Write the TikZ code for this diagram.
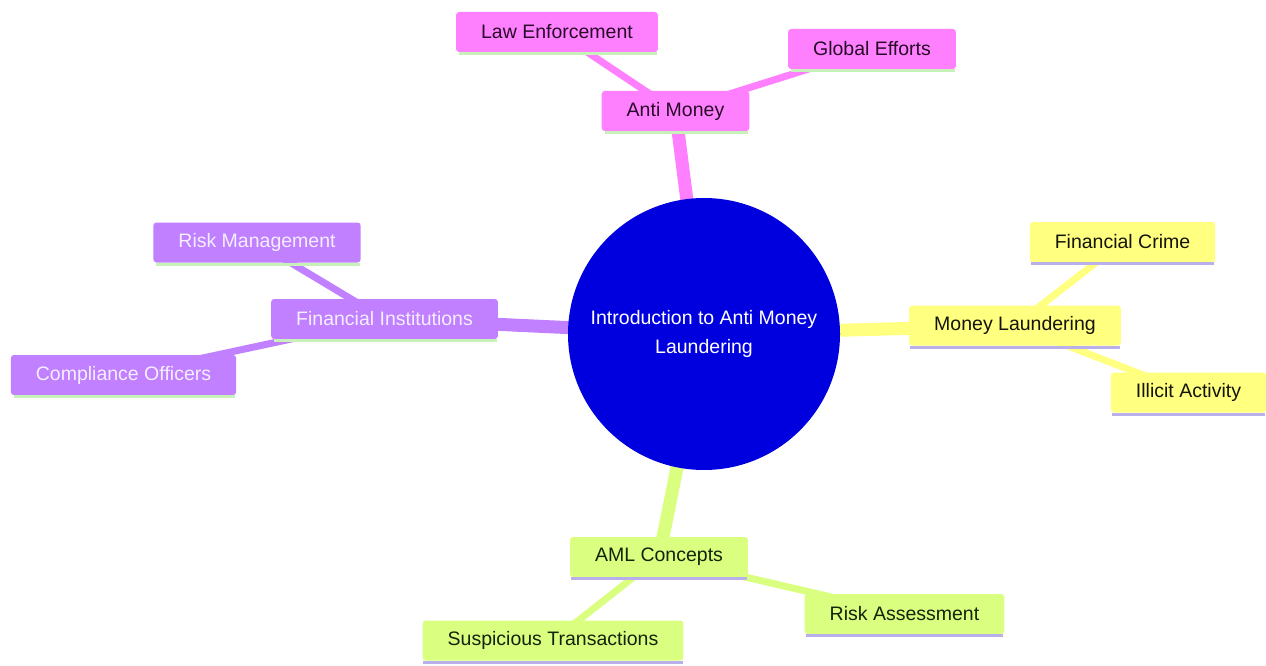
\documentclass[tikz,border=0pt]{standalone}
\usepackage{fontspec}
\setmainfont{Liberation Sans}
\usetikzlibrary{backgrounds}
\definecolor{pinkf}{RGB}{255,128,255}
\definecolor{purpf}{RGB}{192,128,255}
\definecolor{yelf}{RGB}{255,255,128}
\definecolor{grnf}{RGB}{218,255,128}
\definecolor{rootblue}{RGB}{0,0,222}
\definecolor{pinkt}{RGB}{40,10,40}
\definecolor{purpt}{RGB}{245,238,255}
\definecolor{yelt}{RGB}{20,20,10}
\definecolor{grnt}{RGB}{20,35,10}
\definecolor{linegreen}{RGB}{200,240,185}
\definecolor{linelav}{RGB}{185,175,235}
\tikzset{
  mmbox/.style={rectangle, rounded corners=3pt, inner xsep=25pt, inner ysep=0pt,
    minimum height=40pt, font=\fontsize{19.5}{23}\selectfont},
  pinkbox/.style={mmbox, fill=pinkf, text=pinkt},
  purpbox/.style={mmbox, fill=purpf, text=purpt},
  yelbox/.style={mmbox, fill=yelf, text=yelt},
  grnbox/.style={mmbox, fill=grnf, text=grnt},
  rootedge/.style={line width=13pt},
  subedge/.style={line width=7pt},
  uline/.style={line width=3pt}
}
\begin{document}
\begin{tikzpicture}[x=1pt,y=-1pt]
\useasboundingbox (0,0) rectangle (1266,666);
\node[circle, fill=rootblue, minimum size=272pt, inner sep=0pt, text=white, align=center,
  font=\fontsize{19.5}{29}\selectfont] (root) at (704,334) {Introduction to Anti Money\\Laundering};
\node[pinkbox] (am) at (675.5,111) {Anti Money};
\node[pinkbox] (le) at (557,32) {Law Enforcement};
\node[pinkbox] (ge) at (872,49) {Global Efforts};
\node[purpbox] (fi) at (384.5,319) {Financial Institutions};
\node[purpbox] (rm) at (257,242.5) {Risk Management};
\node[purpbox] (co) at (123.5,375) {Compliance Officers};
\node[yelbox] (ml) at (1015,325.5) {Money Laundering};
\node[yelbox] (fc) at (1122.5,242) {Financial Crime};
\node[yelbox] (ia) at (1188.5,392.5) {Illicit Activity};
\node[grnbox] (ac) at (659,557) {AML Concepts};
\node[grnbox] (st) at (553,640.5) {Suspicious Transactions};
\node[grnbox] (ra) at (904.5,614) {Risk Assessment};
\begin{scope}[on background layer]
\draw[rootedge, pinkf] (root.center) -- (am.center);
\draw[rootedge, purpf] (root.center) -- (fi.center);
\draw[rootedge, yelf] (root.center) -- (ml.center);
\draw[rootedge, grnf] (root.center) -- (ac.center);
\draw[subedge, pinkf] (am.center) -- (le.center);
\draw[subedge, pinkf] (am.center) -- (ge.center);
\draw[subedge, purpf] (fi.center) -- (rm.center);
\draw[subedge, purpf] (fi.center) -- (co.center);
\draw[subedge, yelf] (ml.center) -- (fc.center);
\draw[subedge, yelf] (ml.center) -- (ia.center);
\draw[subedge, grnf] (ac.center) -- (st.center);
\draw[subedge, grnf] (ac.center) -- (ra.center);
\end{scope}
\foreach \n in {am,le,ge,fi,rm,co}{
  \draw[uline, linegreen] ([xshift=3pt,yshift=-1.5pt]\n.south west) -- ([xshift=-1pt,yshift=-1.5pt]\n.south east);
}
\foreach \n in {ml,fc,ia,ac,st,ra}{
  \draw[uline, linelav] ([xshift=1pt,yshift=-1.5pt]\n.south west) -- ([xshift=-1pt,yshift=-1.5pt]\n.south east);
}
\end{tikzpicture}
\end{document}
